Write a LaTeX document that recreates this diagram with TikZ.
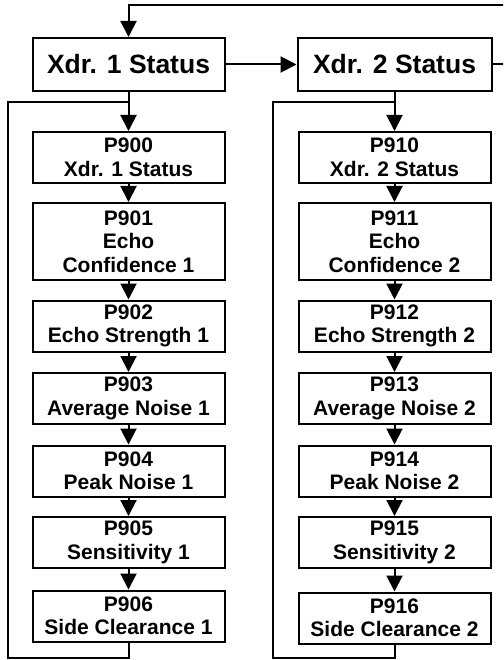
\documentclass[tikz,border=0pt]{standalone}
\usepackage{fontspec}
\setmainfont{Liberation Sans}
\usepackage{tikz}
\usetikzlibrary{arrows.meta,calc}
\tikzset{
  hdr box/.style={draw,line width=2pt,align=center,font=\fontsize{26.5}{30}\selectfont\bfseries,minimum width=192pt,minimum height=53pt,inner sep=0pt},
  par box/.style={draw,line width=2pt,align=center,font=\fontsize{21}{23.5}\selectfont\bfseries,minimum width=192pt,minimum height=51pt,inner sep=0pt},
  par box tall/.style={par box,minimum height=77pt},
  flow arrow/.style={-{Triangle[length=16pt,width=16pt]},line width=2pt},
  flow line/.style={line width=2pt}
}

\begin{document}
\begin{tikzpicture}[x=1pt,y=-1pt]
  \path[use as bounding box,clip] (0,0) rectangle (503,660);
  % status headers
  \node[hdr box] (hdrA) at (128.5,64.5) {Xdr. 1 Status};
  \node[hdr box,minimum width=194pt] (hdrB) at (394.5,64.5) {Xdr. 2 Status};
  % parameter columns
  \node[par box] (pA0) at (128.5,157.5) {P900\\Xdr. 1 Status};
  \node[par box tall] (pA1) at (128.5,241.5) {P901\\Echo\\Confidence 1};
  \node[par box] (pA2) at (128.5,326) {P902\\Echo Strength 1};
  \node[par box] (pA3) at (128.5,398.5) {P903\\Average Noise 1};
  \node[par box] (pA4) at (128.5,471) {P904\\Peak Noise 1};
  \node[par box] (pA5) at (128.5,542.5) {P905\\Sensitivity 1};
  \node[par box] (pA6) at (128.5,616) {P906\\Side Clearance 1};
  \node[par box] (pB0) at (394.5,157.5) {P910\\Xdr. 2 Status};
  \node[par box tall] (pB1) at (394.5,241.5) {P911\\Echo\\Confidence 2};
  \node[par box] (pB2) at (394.5,326) {P912\\Echo Strength 2};
  \node[par box] (pB3) at (394.5,398.5) {P913\\Average Noise 2};
  \node[par box] (pB4) at (394.5,471) {P914\\Peak Noise 2};
  \node[par box] (pB5) at (394.5,542.5) {P915\\Sensitivity 2};
  \node[par box] (pB6) at (394.5,618) {P916\\Side Clearance 2};
  \foreach \c in {A,B} {
    \foreach \i [evaluate=\i as \j using int(\i+1)] in {0,...,5}
      \draw[flow arrow] (p\c\i.south) -- (p\c\j.north);
    \draw[flow arrow] (hdr\c.south) -- (p\c0.north);
  }
  % return loops
  \coordinate (retA) at (8,658);
  \coordinate (retB) at (273,658);
  \coordinate (joinA) at ($(hdrA.south)+(0,10)$);
  \coordinate (joinB) at ($(hdrB.south)+(0,10)$);
  \draw[flow line] (pA6.south) |- (retA) |- (joinA);
  \draw[flow line] (pB6.south) |- (retB) |- (joinB);
  % header chain
  \coordinate (loopR) at (520,5);
  \draw[flow arrow] (hdrA.east) -- (hdrB.west);
  \draw[flow arrow] (hdrB.east) -| (loopR) -| (hdrA.north);
\end{tikzpicture}
\end{document}
